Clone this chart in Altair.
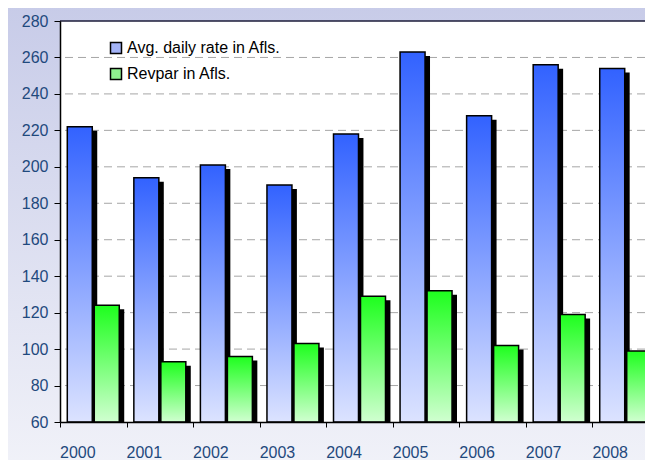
import altair as alt
import pandas as pd

years = ["2000", "2001", "2002", "2003", "2004", "2005", "2006", "2007", "2008"]
series_names = ["Avg. daily rate in Afls.", "Revpar in Afls."]
avg_daily_rate = [222, 194, 201, 190, 218, 263, 228, 256, 254]
revpar = [124, 93, 96, 103, 129, 132, 102, 119, 99]
y_ticks = [60, 80, 100, 120, 140, 160, 180, 200, 220, 240, 260, 280]
grid_values = [80, 100, 120, 140, 160, 180, 200, 220, 240, 260]

rows = []
for y, a, r in zip(years, avg_daily_rate, revpar):
    rows.append({"year": y, "series": series_names[0], "value": a})
    rows.append({"year": y, "series": series_names[1], "value": r})
df = pd.DataFrame(rows)
grid_df = pd.DataFrame({"value": grid_values})
one = pd.DataFrame({"k": [0]})

W, H = 585, 401
FONT = "Liberation Sans"
LABEL_COLOR = "#1f497d"

x_enc = alt.X("year:N", sort=years,
              scale=alt.Scale(paddingInner=0, paddingOuter=0, range=[0, 599]),
              axis=alt.Axis(title=None, tickBand="extent", labelOffset=-16,
                            labelPadding=17, tickSize=5, tickColor="black",
                            domainColor="black", labelColor=LABEL_COLOR,
                            labelFontSize=16, labelFont=FONT, labelAngle=0,
                            grid=False, zindex=1, domainWidth=1.5))
y_axis = alt.Axis(title=None, values=y_ticks, tickSize=6, labelPadding=6,
                  tickColor="black", domainColor="black",
                  labelColor=LABEL_COLOR, labelFontSize=16, labelFont=FONT,
                  grid=False, zindex=1, domainWidth=1.5)
y_scale = alt.Scale(domain=[60, 280], nice=False, zero=False)
y_enc = alt.Y("value:Q", scale=y_scale, axis=y_axis)


def xoff(align):
    return alt.XOffset("series:N", sort=series_names,
                       scale=alt.Scale(domain=series_names, paddingInner=0.074,
                                       paddingOuter=0.27, align=align))


# legend carrier (hidden behind background)
legend_layer = alt.Chart(df).mark_square(filled=True, stroke="black", size=100).encode(
    x=x_enc, y=y_enc,
    color=alt.Color("series:N", sort=series_names,
                    scale=alt.Scale(domain=series_names, range=["#a3b3f7", "#8ef08e"]),
                    legend=alt.Legend(title=None, orient="none", legendX=48, legendY=19,
                                      symbolType="square", symbolSize=121,
                                      symbolStrokeColor="black", symbolStrokeWidth=1.5,
                                      symbolOpacity=1, labelFont=FONT, labelFontSize=16,
                                      labelColor="black", rowPadding=8, labelOffset=3,
                                      zindex=2))
)

bg = alt.Chart(one).mark_rect(
    fill=alt.Gradient(gradient="linear", x1=0, y1=0, x2=0, y2=1,
                      stops=[alt.GradientStop(offset=0, color="#c7cbe8"),
                             alt.GradientStop(offset=1, color="#f2f3f9")])
).encode(x=alt.value(-60), x2=alt.value(W + 20), y=alt.value(-20), y2=alt.value(H + 60))

plot_bg = alt.Chart(one).mark_rect(fill="white").encode(
    x=alt.value(0), x2=alt.value(W + 10), y=alt.value(0), y2=alt.value(H))

grid = alt.Chart(grid_df).mark_rule(color="#a6a6a6", strokeDash=[8, 5], strokeWidth=1).encode(
    y=alt.Y("value:Q", scale=y_scale, axis=y_axis))


def shadow(name):
    return alt.Chart(df).transform_filter(alt.datum.series == name).mark_bar(
        fill="black", yOffset=4, clip=True
    ).encode(x=x_enc, xOffset=xoff(0.84), y=y_enc, y2=alt.datum(60))


def bars(name, top, bottom):
    return alt.Chart(df).transform_filter(alt.datum.series == name).mark_bar(
        fill=alt.Gradient(gradient="linear", x1=0, y1=0, x2=0, y2=1,
                          stops=[alt.GradientStop(offset=0, color=top),
                                 alt.GradientStop(offset=1, color=bottom)]),
        stroke="black", strokeWidth=1.5
    ).encode(x=x_enc, xOffset=xoff(0.5), y=y_enc, y2=alt.datum(60))


top_line = alt.Chart(one).mark_rule(color="#1c1c3a", strokeWidth=1.5).encode(y=alt.value(0))

chart = alt.layer(
    legend_layer, bg, plot_bg, grid,
    shadow(series_names[0]), shadow(series_names[1]),
    bars(series_names[0], "#3262ff", "#dce3ff"),
    bars(series_names[1], "#1eff1e", "#d0ffd0"),
    top_line,
).resolve_scale(xOffset="independent").properties(
    width=W, height=H,
    autosize=alt.AutoSizeParams(type="none"),
    padding={"left": 52, "top": 13, "right": 0, "bottom": 38},
).configure_view(stroke=None)

chart.save("out.html", embed_options={"renderer": "svg", "actions": False})
